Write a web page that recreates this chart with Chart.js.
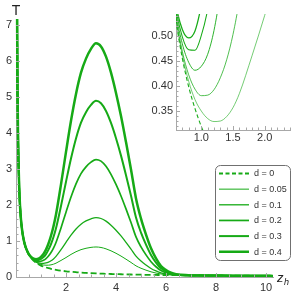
<!DOCTYPE html>
<html><head><meta charset="utf-8">
<script src="https://cdn.jsdelivr.net/npm/chart.js@4.4.1/dist/chart.umd.min.js"></script>
<style>
html,body{margin:0;padding:0;background:#fff;}
#wrap{position:relative;width:300px;height:298px;overflow:hidden;}
#main{position:absolute;left:0;top:0;}
#inset{position:absolute;left:140px;top:0;}
</style></head><body>
<div id="wrap"><canvas id="main" width="300" height="298"></canvas><canvas id="inset" width="160" height="150"></canvas></div>
<script>
// horizon position z_h (x values shared by all series)
const zh = [0.044,0.06,0.08,0.1,0.13,0.16,0.2,0.25,0.3,0.35,0.4,0.5,0.6,0.7,0.8,0.9,1.0,1.1,1.2,1.3,1.4,1.5,1.6,1.8,2.0,2.2,2.4,2.6,2.8,3.0,3.2,3.4,3.6,3.8,4.0,4.2,4.4,4.6,4.8,5.0,5.2,5.4,5.6,5.8,6.0,6.2,6.4,6.6,7.0,7.5,8.0,8.5,9.0,9.5,10.0,10.28];
// temperature T for each d
const T_d0 = [7.234,5.305,3.979,3.183,2.449,1.989,1.592,1.273,1.061,0.909,0.796,
  0.637,0.531,0.455,0.398,0.354,0.318,0.289,0.265,0.245,0.227,0.212,0.199,0.177,0.159,0.145,0.133,0.122,0.114,0.106,0.099,0.094,0.088,0.084,0.080,0.076,0.072,0.069,0.066,0.064,0.061,0.059,0.057,0.055,0.053,0.051,0.050,0.048,
  0.045,0.042,0.040,0.037,0.035,0.034,0.032,0.031];
const T_d005 = [7.234,5.305,3.979,3.183,2.449,1.989,1.592,1.273,1.061,0.909,0.796,
  0.639,0.535,0.462,0.409,0.372,0.349,0.334,0.328,0.329,0.338,0.356,0.384,0.460,0.541,0.628,0.703,0.761,0.799,0.824,0.835,0.821,0.783,0.728,0.660,0.582,0.495,0.405,0.310,0.243,0.190,0.144,0.110,0.084,0.069,0.059,0.053,0.049,
  0.045,0.042,0.040,0.037,0.035,0.034,0.032,0.031];
const T_d01 = [7.234,5.305,3.979,3.183,2.449,1.989,1.592,1.273,1.061,0.909,0.796,
  0.641,0.539,0.469,0.422,0.393,0.380,0.381,0.392,0.416,0.452,0.503,0.572,0.759,0.964,1.164,1.336,1.470,1.559,1.619,1.651,1.627,1.553,1.442,1.302,1.143,0.964,0.777,0.580,0.442,0.333,0.238,0.169,0.115,0.087,0.067,0.057,0.051,
  0.045,0.042,0.040,0.037,0.035,0.034,0.032,0.031];
const T_d02 = [7.234,5.305,3.979,3.183,2.449,1.989,1.592,1.273,1.061,0.910,0.798,
  0.645,0.546,0.484,0.447,0.431,0.439,0.463,0.511,0.586,0.682,0.806,0.961,1.365,1.802,2.224,2.588,2.874,3.064,3.195,3.267,3.222,3.078,2.856,2.575,2.254,1.894,1.514,1.115,0.836,0.615,0.425,0.285,0.178,0.122,0.085,0.064,0.054,
  0.045,0.042,0.040,0.037,0.035,0.034,0.032,0.031];
const T_d03 = [7.234,5.305,3.979,3.183,2.449,1.989,1.592,1.273,1.062,0.912,0.801,
  0.649,0.554,0.498,0.472,0.471,0.501,0.553,0.637,0.761,0.917,1.112,1.354,1.977,2.649,3.295,3.853,4.292,4.584,4.786,4.899,4.834,4.618,4.284,3.860,3.376,2.832,2.259,1.656,1.234,0.901,0.614,0.402,0.241,0.158,0.102,0.071,0.057,
  0.045,0.042,0.040,0.037,0.035,0.034,0.032,0.031];
const T_d04 = [7.234,5.305,3.979,3.183,2.449,1.989,1.592,1.273,1.063,0.913,0.802,
  0.653,0.562,0.513,0.496,0.510,0.562,0.641,0.761,0.933,1.147,1.412,1.739,2.577,3.479,4.345,5.093,5.682,6.074,6.346,6.499,6.414,6.128,5.684,5.120,4.476,3.752,2.989,2.186,1.624,1.181,0.799,0.517,0.303,0.193,0.119,0.078,0.060,
  0.045,0.042,0.040,0.037,0.035,0.034,0.032,0.031];
const seriesLabels = ['d = 0','d = 0.05','d = 0.1','d = 0.2','d = 0.3','d = 0.4'];
const xTicksMain = [2,4,6,8,10];
const yTicksMain = [0,1,2,3,4,5,6,7];
const xTicksInset = [1.0,1.5,2.0];
const yTicksInset = [0.35,0.40,0.45,0.50];

const GREEN = 'rgb(22,170,22)';
const AXIS = '#a8a8a8';
const LABEL = '#333';
const FONT = '"Liberation Sans", Arial, sans-serif';
const seriesT = [T_d0,T_d005,T_d01,T_d02,T_d03,T_d04];
const mainWidths = [1.8,1.0,1.3,1.7,2.0,2.5];
const insetWidths = [1.1,0.6,0.75,0.9,1.05,1.25];

function makeDatasets(widths, dash, clip){
  return seriesT.map((arr,i)=>({
    label: seriesLabels[i],
    data: zh.map((z,k)=>({x:z, y:arr[k]})),
    borderColor: GREEN,
    borderWidth: widths[i],
    borderDash: i===0 ? dash : [],
    pointRadius: 0,
    fill: false,
    cubicInterpolationMode: 'monotone',
    clip: clip
  }));
}

function inwardTicks(id, xMajor, xMinorStep, xMin, xMax, yMajor, yMinorStep, yMin, yMax){
  return {
    id,
    afterDraw(chart){
      const ctx = chart.ctx, xs = chart.scales.x, ys = chart.scales.y, a = chart.chartArea;
      ctx.save();
      ctx.strokeStyle = AXIS; ctx.lineWidth = 1;
      ctx.beginPath();
      const isMajor = (v, arr) => arr.some(m => Math.abs(m - v) < 1e-6);
      for (let v = Math.ceil(xMin / xMinorStep) * xMinorStep; v <= xMax + 1e-9; v += xMinorStep) {
        const vv = Math.round(v * 1000) / 1000;
        if (vv <= xMin + 1e-9) continue;
        const px = Math.round(xs.getPixelForValue(vv)) + 0.5;
        const len = isMajor(vv, xMajor) ? 4 : 2.5;
        ctx.moveTo(px, a.bottom); ctx.lineTo(px, a.bottom - len);
      }
      for (let v = Math.ceil(yMin / yMinorStep) * yMinorStep; v <= yMax + 1e-9; v += yMinorStep) {
        const vv = Math.round(v * 1000) / 1000;
        if (vv <= yMin + 1e-9) continue;
        const py = Math.round(ys.getPixelForValue(vv)) + 0.5;
        const len = isMajor(vv, yMajor) ? 4 : 2.5;
        ctx.moveTo(a.left, py); ctx.lineTo(a.left + len, py);
      }
      ctx.stroke();
      ctx.restore();
    }
  };
}

const mainExtras = {
  id: 'mainExtras',
  afterDraw(chart){
    const ctx = chart.ctx;
    ctx.save();
    // axis titles
    ctx.fillStyle = '#222';
    ctx.font = '14px ' + FONT; ctx.textAlign = 'center'; ctx.textBaseline = 'alphabetic';
    ctx.fillText('T', 16, 15);
    ctx.textAlign = 'left';
    ctx.font = 'italic 13px ' + FONT;
    ctx.fillText('z', 277, 282);
    ctx.font = 'italic 9px ' + FONT;
    ctx.fillText('h', 284, 285);
    // legend
    const bx = 215.5, by = 165.5, bw = 75, bh = 95;
    ctx.beginPath();
    ctx.roundRect(bx, by, bw, bh, 5);
    ctx.fillStyle = '#fff'; ctx.fill();
    ctx.strokeStyle = '#707070'; ctx.lineWidth = 1; ctx.stroke();
    chart.data.datasets.forEach((ds, i) => {
      const y = 173.5 + i * 15.65;
      ctx.beginPath();
      ctx.setLineDash(ds.borderDash && ds.borderDash.length ? [4, 2.5] : []);
      ctx.lineWidth = ds.borderWidth; ctx.strokeStyle = ds.borderColor;
      ctx.moveTo(219, y); ctx.lineTo(249, y); ctx.stroke();
      ctx.setLineDash([]);
      ctx.fillStyle = LABEL; ctx.font = '9px ' + FONT;
      ctx.textAlign = 'left'; ctx.textBaseline = 'middle';
      ctx.fillText(ds.label, 254, y + 0.5);
    });
    ctx.restore();
  }
};

const mainChart = new Chart(document.getElementById('main'), {
  type: 'line',
  data: { datasets: makeDatasets(mainWidths, [6,3], 2) },
  options: {
    responsive: false, animation: false, devicePixelRatio: 1,
    layout: { padding: { left: 0, right: 27, top: 21, bottom: 0 } },
    plugins: { legend: { display: false }, tooltip: { enabled: false } },
    scales: {
      x: {
        type: 'linear', min: 0, max: 10.28,
        afterBuildTicks: s => { s.ticks = xTicksMain.map(v => ({ value: v })); },
        afterFit: s => { s.height = 21; },
        grid: { display: false, drawTicks: false },
        border: { display: true, color: AXIS, width: 1 },
        ticks: { padding: 4, color: LABEL, font: { family: FONT, size: 11 }, maxRotation: 0, autoSkip: false, callback: v => String(v) }
      },
      y: {
        type: 'linear', min: 0, max: 7.12,
        afterBuildTicks: s => { s.ticks = yTicksMain.map(v => ({ value: v })); },
        afterFit: s => { s.width = 16; },
        grid: { display: false, drawTicks: false },
        border: { display: true, color: AXIS, width: 1 },
        ticks: { padding: 4, color: LABEL, font: { family: FONT, size: 11 }, autoSkip: false, callback: v => String(v) }
      }
    }
  },
  plugins: [inwardTicks('mainTicks', xTicksMain, 0.5, 0, 10.28, yTicksMain, 0.2, 0, 7.12), mainExtras]
});

const insetChart = new Chart(document.getElementById('inset'), {
  type: 'line',
  data: { datasets: makeDatasets(insetWidths, [4,2.5], 0) },
  options: {
    responsive: false, animation: false, devicePixelRatio: 1,
    layout: { padding: { left: 0, right: 10, top: 14, bottom: 0 } },
    plugins: { legend: { display: false }, tooltip: { enabled: false } },
    scales: {
      x: {
        type: 'linear', min: 0.6, max: 2.4,
        afterBuildTicks: s => { s.ticks = xTicksInset.map(v => ({ value: v })); },
        afterFit: s => { s.height = 20; },
        grid: { display: false, drawTicks: false },
        border: { display: true, color: AXIS, width: 1 },
        ticks: { padding: 1, color: LABEL, font: { family: FONT, size: 11 }, maxRotation: 0, autoSkip: false, callback: v => Number(v).toFixed(1) }
      },
      y: {
        type: 'linear', min: 0.311, max: 0.544,
        afterBuildTicks: s => { s.ticks = yTicksInset.map(v => ({ value: v })); },
        afterFit: s => { s.width = 36; },
        grid: { display: false, drawTicks: false },
        border: { display: true, color: AXIS, width: 1 },
        ticks: { padding: 3, color: LABEL, font: { family: FONT, size: 11 }, autoSkip: false, callback: v => Number(v).toFixed(2) }
      }
    }
  },
  plugins: [inwardTicks('insetTicks', xTicksInset, 0.1, 0.6, 2.4, yTicksInset, 0.01, 0.311, 0.544)]
});
</script>
</body></html>
